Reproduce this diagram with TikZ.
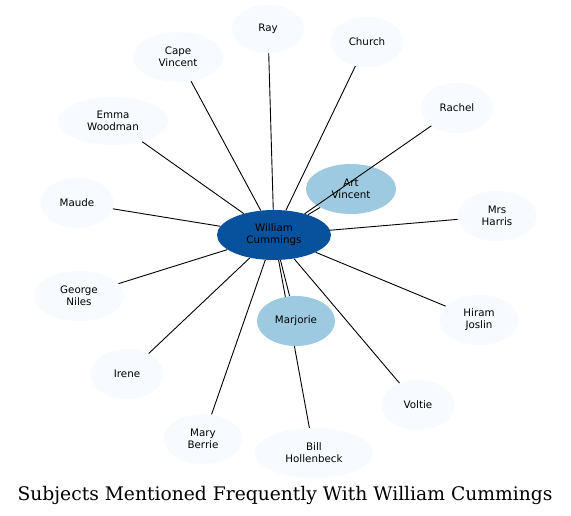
\documentclass[tikz,border=0pt]{standalone}
\usepackage{fontspec}
\setmainfont{DejaVu Sans}
\newfontfamily\titlefont{DejaVu Serif}
\usetikzlibrary{shapes.geometric}
\pgfdeclarelayer{edges}
\pgfdeclarelayer{paper}
\pgfsetlayers{paper,edges,main}
\definecolor{leaf}{HTML}{F7FBFF}
\definecolor{mid}{HTML}{9ECAE1}
\definecolor{hub}{HTML}{08519C}
\tikzset{
  x=1pt, y=-1pt,
  ent/.style={ellipse, inner sep=0pt, minimum height=50pt, fill=leaf, align=center,
    font=\fontsize{10.3}{12}\selectfont, text=black},
  midnode/.style={ent, fill=mid},
  hubnode/.style={ent, fill=hub},
  link/.style={draw=black, line width=0.9pt},
}
\begin{document}
\begin{tikzpicture}
\useasboundingbox (0,0) rectangle (571,515);
\begin{pgfonlayer}{paper}
\fill[white] (0,0) rectangle (571,515);
\end{pgfonlayer}
\path
  (274,235) node[hubnode, minimum width=114pt] (wc) {William\\Cummings}
  (268,29)  node[ent, minimum width=72pt, minimum height=48pt] (ray) {Ray}
  (178,57)  node[ent, minimum width=90pt] (cape) {Cape\\Vincent}
  (113,121) node[ent, minimum width=110pt, minimum height=48pt] (emma) {Emma\\Woodman}
  (367,42)  node[ent, minimum width=73pt] (church) {Church}
  (457,108) node[ent, minimum width=72pt] (rachel) {Rachel}
  (351,189) node[midnode, minimum width=90pt] (art) {Art\\Vincent}
  (77,203)  node[ent, minimum width=73pt] (maude) {Maude}
  (79,296)  node[ent, minimum width=90pt] (george) {George\\Niles}
  (497,216) node[ent, minimum width=79pt] (harris) {Mrs\\Harris}
  (479,320) node[ent, minimum width=79pt] (hiram) {Hiram\\Joslin}
  (296,321) node[midnode, minimum width=78pt] (marj) {Marjorie}
  (127,374) node[ent, minimum width=73pt] (irene) {Irene}
  (203,439) node[ent, minimum width=79pt] (mary) {Mary\\Berrie}
  (314,453) node[ent, minimum width=118pt] (bill) {Bill\\Hollenbeck}
  (418,405) node[ent, minimum width=73pt] (voltie) {Voltie};
\begin{pgfonlayer}{edges}
\foreach \t in {ray,cape,emma,church,art,maude,george,harris,hiram,marj,irene,mary,bill,voltie}
  \draw[link] (wc) -- (\t);
\end{pgfonlayer}
\draw[link] (wc) -- (rachel);
\node[font=\titlefont\fontsize{18.7}{22}\selectfont, anchor=base] (title) at (285,500) {Subjects Mentioned Frequently With William Cummings};
\end{tikzpicture}
\end{document}
